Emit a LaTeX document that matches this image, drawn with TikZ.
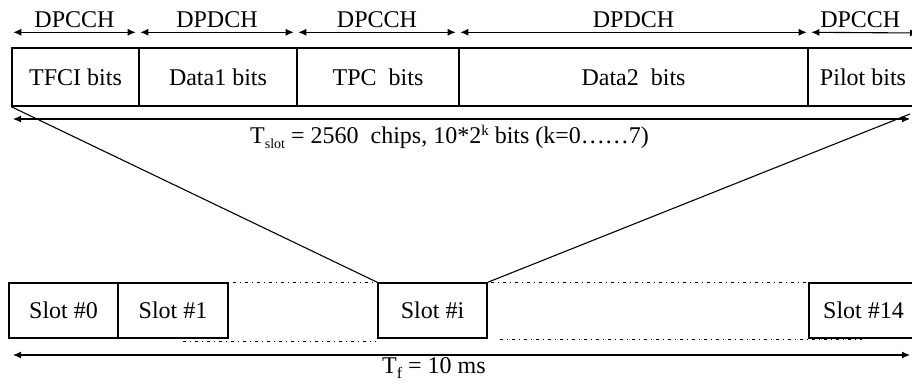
\documentclass[tikz,border=0pt]{standalone}
\usepackage{fontspec}
\setmainfont{Liberation Serif}
\usetikzlibrary{arrows.meta}
\begin{document}
\begin{tikzpicture}[x=1pt,y=-1pt,
  every node/.style={font=\fontsize{24}{28}\selectfont},
  field/.style={draw,line width=1.4pt,inner sep=0pt,minimum height=58pt},
  slotbox/.style={draw,line width=1.4pt,inner sep=0pt,minimum height=55pt,minimum width=109pt},
  span/.style={line width=1.1pt,{Latex[length=8pt,width=7pt]}-{Latex[length=8pt,width=7pt]}},
  chan/.style={above,inner sep=4pt},
  fan/.style={line width=1.1pt},
  gap/.style={line width=0.9pt,dash pattern=on 3pt off 4pt on 1pt off 4pt}]
\useasboundingbox (0,0) rectangle (912,385);
\begin{scope}
\clip (0,0) rectangle (912,385);
% slot fields
\node[field,minimum width=127pt] (tfci)  at (75.5,77) {TFCI bits};
\node[field,minimum width=158pt] (data1) at (218,77)  {Data1 bits};
\node[field,minimum width=162pt] (tpc)   at (378,77)  {TPC \ bits};
\node[field,minimum width=349pt] (data2) at (633.5,77) {Data2 \ bits};
\node[field,minimum width=110pt] (pilot) at (863,77)  {Pilot bits};
% channel spans
\draw[span] ([xshift=2pt,yshift=15pt]tfci.north west) -- ([xshift=-4pt,yshift=15pt]tfci.north east) node[chan,midway] {DPCCH};
\draw[span] ([xshift=2pt,yshift=15pt]data1.north west) -- ([xshift=-4pt,yshift=15pt]data1.north east) node[chan,midway] {DPDCH};
\draw[span] ([xshift=2pt,yshift=15pt]tpc.north west) -- ([xshift=-4pt,yshift=15pt]tpc.north east) node[chan,midway] {DPCCH};
\draw[span] ([xshift=2pt,yshift=15pt]data2.north west) -- ([xshift=-2pt,yshift=15pt]data2.north east) node[chan,midway] {DPDCH};
\coordinate (pend) at (918,33);
\draw[span] ([xshift=4pt,yshift=15pt]pilot.north west) -- (pend);
\node[chan] (pch) at ([xshift=53pt,yshift=15pt]pilot.north west) {DPCCH};
% slot duration
\coordinate (sl) at (13,119);
\coordinate (sr) at (910,119);
\draw[span] (sl) -- (sr);
\node[anchor=base west,inner sep=0pt] (tslot) at (250,143)
  {T\raisebox{-5pt}{\fontsize{14}{14}\selectfont slot} = 2560 \ chips, 10*2\raisebox{8pt}{\fontsize{15}{15}\selectfont k} bits (k=0……7)};
% frame of slots
\node[slotbox] (s0)  at (63.5,310.5) {Slot \#0};
\node[slotbox,minimum width=110pt] (s1) at (173,310.5) {Slot \#1};
\node[slotbox] (si)  at (432.5,310.5) {Slot \#i};
\node[slotbox] (s14) at (863.5,310.5) {Slot \#14};
% zoom lines
\coordinate (zr) at (910,114);
\draw[fan] (tfci.south west) -- (si.north west);
\draw[fan] (zr) -- (si.north east);
% omitted slots
\draw[gap] (s1.north east) ++(4,0) -- (si.north west);
\draw[gap] (si.north east) ++(3,0) -- (s14.north west);
\coordinate (g1) at (183,341);
\coordinate (g2) at (376,341);
\coordinate (g3) at (500,339);
\coordinate (g4) at (862,339);
\draw[gap] (g1) -- (g2);
\draw[gap] (g3) -- (g4);
% frame duration
\coordinate (fl) at (13,355);
\coordinate (fr) at (910,355);
\draw[span] (fl) -- (fr);
\node[anchor=base west,inner sep=0pt] (tf) at (382,373)
  {T\raisebox{-5pt}{\fontsize{16}{16}\selectfont f} = 10 ms};
\end{scope}
\end{tikzpicture}
\end{document}
